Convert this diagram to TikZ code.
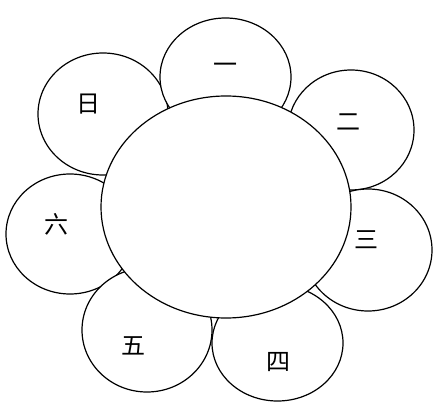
\documentclass[tikz,border=0pt]{standalone}
\usepackage{fontspec}
\newfontfamily\cjk{Noto Sans CJK SC}
\usetikzlibrary{shapes.geometric}
\begin{document}
\begin{tikzpicture}[x=1pt,y=-1pt,
  petal/.style={ellipse,draw=black,fill=white,line width=1.2pt,inner sep=0pt},
  lab/.style={font=\cjk\fontsize{24}{24}\selectfont,inner sep=0pt}]
\useasboundingbox (0,0) rectangle (433,403);
% petals
\node[petal,minimum width=128pt,minimum height=120pt] (p6) at (70,234) {};
\node[petal,minimum width=130pt,minimum height=122pt] (p7) at (103,114) {};
\node[petal,minimum width=131pt,minimum height=118pt] (p1) at (225.5,77) {};
\node[petal,minimum width=126pt,minimum height=120pt] (p2) at (351,130) {};
\node[petal,minimum width=128pt,minimum height=122pt] (p3) at (368,250) {};
\node[petal,minimum width=131pt,minimum height=116pt] (p4) at (277.5,343) {};
\node[petal,minimum width=130pt,minimum height=124pt] (p5) at (147,330) {};
% centre
\node[petal,minimum width=250pt,minimum height=222pt] (c) at (226,207) {};
% labels
\node[lab] (l1) at (225,68) {一};
\node[lab] (l2) at (348,122) {二};
\node[lab] (l3) at (366,240) {三};
\node[lab] (l4) at (278,362) {四};
\node[lab] (l5) at (133,346) {五};
\node[lab] (l6) at (56,224) {六};
\node[lab] (l7) at (88,104) {日};
\end{tikzpicture}
\end{document}
